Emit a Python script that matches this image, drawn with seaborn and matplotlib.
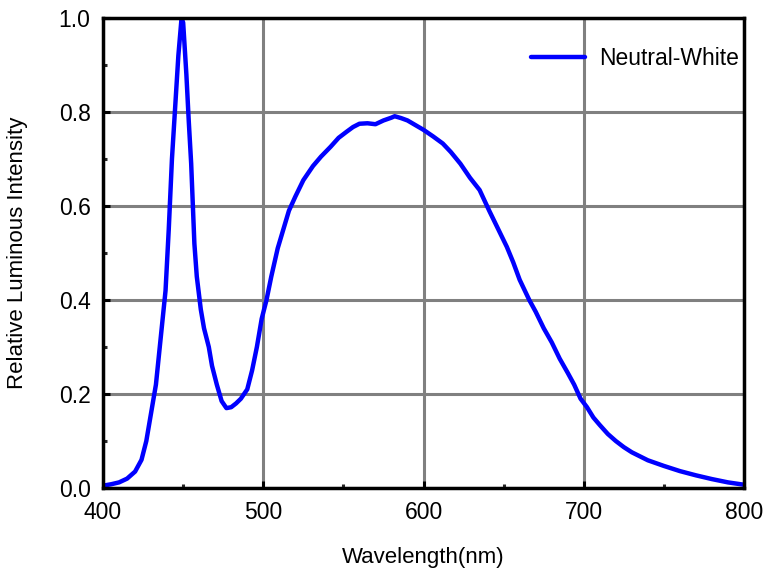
import matplotlib
matplotlib.use("Agg")
import matplotlib.pyplot as plt
from matplotlib.ticker import MultipleLocator, FormatStrFormatter
import pandas as pd
import seaborn as sns

# Relative spectral power of a neutral-white LED
wavelength = [400, 405, 410, 415, 420, 424, 427, 430, 433, 436, 439, 441, 443, 445,
              447, 449, 450, 452, 453.5, 455, 457, 458.5, 461, 463, 466, 468, 471,
              474, 477, 480, 483, 486, 490, 493, 496, 499, 502, 505, 509, 512.5, 516,
              520, 525, 531, 536, 542, 547, 552, 556, 560, 565, 570, 575, 580, 582,
              586, 590, 595, 600, 606, 612, 617, 623, 629, 635, 641, 646, 652, 656,
              660, 666, 670, 675, 680, 685, 690, 694, 698, 702, 706, 710, 715, 720,
              725, 730, 740, 750, 760, 770, 780, 790, 800]
intensity = [0.005, 0.008, 0.012, 0.02, 0.035, 0.06, 0.10, 0.16, 0.22, 0.32, 0.42,
             0.55, 0.70, 0.81, 0.92, 1.0, 0.99, 0.88, 0.78, 0.69, 0.52, 0.45, 0.38,
             0.34, 0.30, 0.26, 0.22, 0.185, 0.17, 0.172, 0.18, 0.19, 0.21, 0.25, 0.30,
             0.36, 0.40, 0.45, 0.51, 0.55, 0.59, 0.62, 0.655, 0.685, 0.705, 0.726,
             0.745, 0.758, 0.768, 0.775, 0.776, 0.774, 0.782, 0.788, 0.791, 0.787,
             0.782, 0.772, 0.762, 0.748, 0.733, 0.715, 0.69, 0.66, 0.634, 0.59,
             0.555, 0.513, 0.48, 0.443, 0.40, 0.375, 0.34, 0.31, 0.275, 0.245, 0.22,
             0.19, 0.172, 0.15, 0.134, 0.115, 0.10, 0.087, 0.076, 0.059, 0.047,
             0.036, 0.027, 0.019, 0.012, 0.007]
series_name = "Neutral-White"

df = pd.DataFrame({"Wavelength": wavelength, "Intensity": intensity,
                   "Series": series_name})

sns.set_style("white")
plt.rcParams["font.family"] = ["Liberation Sans", "DejaVu Sans"]
plt.rcParams["text.color"] = "black"
plt.rcParams["axes.labelcolor"] = "black"

fig = plt.figure(figsize=(7.69, 5.73), dpi=100)
ax = fig.add_axes([0.134, 0.1483, 0.8335, 0.8203])

sns.lineplot(data=df, x="Wavelength", y="Intensity", hue="Series",
             palette=["#0000ff"], linewidth=3.2, ax=ax, zorder=3)

ax.set_xlim(400, 800)
ax.set_ylim(0, 1.0)
ax.xaxis.set_major_locator(MultipleLocator(100))
ax.xaxis.set_minor_locator(MultipleLocator(50))
ax.yaxis.set_major_locator(MultipleLocator(0.2))
ax.yaxis.set_minor_locator(MultipleLocator(0.1))
ax.yaxis.set_major_formatter(FormatStrFormatter("%.1f"))

ax.grid(True, which="major", color="#808080", linewidth=2.2, zorder=1)
ax.set_axisbelow(True)

for side in ["left", "bottom", "top", "right"]:
    ax.spines[side].set_visible(True)
    ax.spines[side].set_color("black")
    ax.spines[side].set_linewidth(2.5)
    ax.spines[side].set_zorder(4)

ax.tick_params(axis="both", which="major", direction="in", length=5, width=2.2,
               labelsize=16.5, pad=9, colors="black", labelcolor="black")
ax.tick_params(axis="both", which="minor", direction="in", length=3, width=2.2)
ax.tick_params(which="both", top=False, right=False, bottom=True, left=True)

ax.set_xlabel("Wavelength(nm)", fontsize=16, labelpad=17, color="black")
ax.set_ylabel("Relative Luminous Intensity", fontsize=16, labelpad=22,
              color="black")

leg = ax.legend(loc="center right", bbox_to_anchor=(0.992, 0.913), frameon=False,
                fontsize=16.5, handlelength=2.35, handletextpad=0.6,
                borderpad=0, borderaxespad=0)
for t in leg.get_texts():
    t.set_color("black")

fig.savefig("out.png", dpi=100)
